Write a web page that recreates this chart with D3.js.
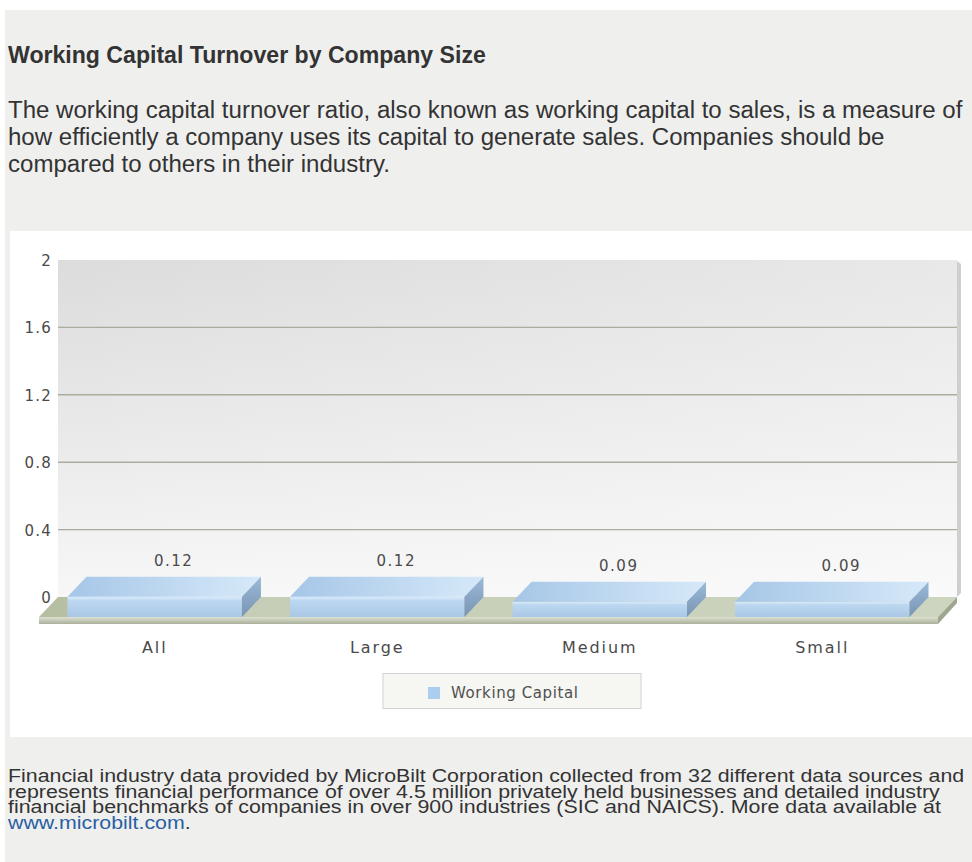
<!DOCTYPE html>
<html>
<head>
<meta charset="utf-8">
<script src="https://cdn.jsdelivr.net/npm/d3@7"></script>
<style>
  html, body { margin: 0; padding: 0; background: #ffffff; }
  svg { display: block; }
</style>
</head>
<body>
<svg id="chart" width="972" height="862"></svg>
<script>
// ---------------- data ----------------
const categories = ["All", "Large", "Medium", "Small"];
const values = [0.12, 0.12, 0.09, 0.09];
const valueLabels = ["0.12", "0.12", "0.09", "0.09"];
const yTicks = [0, 0.4, 0.8, 1.2, 1.6, 2];
const yTickLabels = ["0", "0.4", "0.8", "1.2", "1.6", "2"];
const seriesName = "Working Capital";

const titleText = "Working Capital Turnover by Company Size";
const introLines = [
  "The working capital turnover ratio, also known as working capital to sales, is a measure of",
  "how efficiently a company uses its capital to generate sales. Companies should be",
  "compared to others in their industry."
];
const footerLines = [
  "Financial industry data provided by MicroBilt Corporation collected from 32 different data sources and",
  "represents financial performance of over 4.5 million privately held businesses and detailed industry",
  "financial benchmarks of companies in over 900 industries (SIC and NAICS). More data available at"
];
const footerLink = "www.microbilt.com";

// ---------------- page ----------------
const svg = d3.select("#chart");
const defs = svg.append("defs");

svg.append("rect").attr("x", 5).attr("y", 10).attr("width", 967).attr("height", 852).attr("fill", "#efefee");
svg.append("rect").attr("x", 10).attr("y", 231).attr("width", 962).attr("height", 506).attr("fill", "#ffffff");

const textFont = "'Liberation Sans', Arial, Helvetica, sans-serif";

function fitBlock(sel, firstNode, target) {
  const len = firstNode.getComputedTextLength();
  const base = parseFloat(sel.attr("font-size"));
  sel.attr("font-size", (base * target / len).toFixed(2));
}

// title
const title = svg.append("text")
  .attr("x", 8).attr("y", 63)
  .attr("font-family", textFont).attr("font-weight", "bold")
  .attr("font-size", 20).attr("fill", "#333")
  .text(titleText);
fitBlock(title, title.node(), 478);

// intro paragraph
const intro = svg.append("g").attr("font-family", textFont).attr("font-size", 20).attr("fill", "#333");
const introTexts = intro.selectAll("text").data(introLines).join("text")
  .attr("x", 8).attr("y", (d, i) => 118 + i * 27).text(d => d);
fitBlock(intro, introTexts.node(), 955);

// footer (condensed horizontally, tight leading)
const footerOuter = svg.append("g");
const footer = footerOuter.append("g").attr("font-family", textFont).attr("font-size", 17.5).attr("fill", "#333");
const footerTexts = footer.selectAll("text.l").data(footerLines).join("text").attr("class", "l")
  .attr("x", 0).attr("y", (d, i) => 782 + i * 15.6).text(d => d);
const linkT = footer.append("text").attr("x", 0).attr("y", 782 + 3 * 15.6);
linkT.append("tspan").attr("fill", "#2b5fa3").text(footerLink);
linkT.append("tspan").text(".");
const sx = 957 / footerTexts.node().getComputedTextLength();
footerOuter.attr("transform", `translate(8,0) scale(${sx.toFixed(4)},1)`);

// ---------------- chart ----------------
const DX = 19, DY = 20; // depth offset (back plane is right/up)
const x = d3.scaleBand().domain(categories).range([39, 938]).paddingInner(0.216).paddingOuter(0.128);
const y = d3.scaleLinear().domain([0, 2]).range([597, 260]); // back plane
const yF = v => y(v) + DY; // front plane

const plotL = x.range()[0] + DX, plotR = x.range()[1] + DX;

// gradients
const gWall = defs.append("linearGradient").attr("id", "wall").attr("x1", 0).attr("y1", 0).attr("x2", 0).attr("y2", 1);
gWall.append("stop").attr("offset", 0).attr("stop-color", "#dcdcdc");
gWall.append("stop").attr("offset", 0.5).attr("stop-color", "#e9e9e9");
gWall.append("stop").attr("offset", 1).attr("stop-color", "#f7f7f7");
const gWallH = defs.append("linearGradient").attr("id", "wallH").attr("x1", 0).attr("y1", 0).attr("x2", 1).attr("y2", 0);
gWallH.append("stop").attr("offset", 0).attr("stop-color", "#ffffff").attr("stop-opacity", 0);
gWallH.append("stop").attr("offset", 1).attr("stop-color", "#ffffff").attr("stop-opacity", 0.35);

const gFront = defs.append("linearGradient").attr("id", "barFront").attr("x1", 0).attr("y1", 0).attr("x2", 0).attr("y2", 1);
gFront.append("stop").attr("offset", 0).attr("stop-color", "#d9eaf9");
gFront.append("stop").attr("offset", 0.12).attr("stop-color", "#c9e0f5");
gFront.append("stop").attr("offset", 0.2).attr("stop-color", "#bcd7f0");
gFront.append("stop").attr("offset", 1).attr("stop-color", "#a9c7e6");
const gTop = defs.append("linearGradient").attr("id", "barTop").attr("x1", 0).attr("y1", 0).attr("x2", 1).attr("y2", 0);
gTop.append("stop").attr("offset", 0).attr("stop-color", "#a6c6e7");
gTop.append("stop").attr("offset", 1).attr("stop-color", "#d6e9f9");
const gSide = defs.append("linearGradient").attr("id", "barSide").attr("x1", 0).attr("y1", 0).attr("x2", 0).attr("y2", 1);
gSide.append("stop").attr("offset", 0).attr("stop-color", "#9bbad8");
gSide.append("stop").attr("offset", 1).attr("stop-color", "#7895b3");

const gFloor = defs.append("linearGradient").attr("id", "floorTop").attr("x1", 0).attr("y1", 0).attr("x2", 1).attr("y2", 0);
gFloor.append("stop").attr("offset", 0).attr("stop-color", "#b4bd9f");
gFloor.append("stop").attr("offset", 0.15).attr("stop-color", "#c6cdb6");
gFloor.append("stop").attr("offset", 1).attr("stop-color", "#cdd4bf");
const gFloorF = defs.append("linearGradient").attr("id", "floorFront").attr("x1", 0).attr("y1", 0).attr("x2", 0).attr("y2", 1);
gFloorF.append("stop").attr("offset", 0).attr("stop-color", "#dde2d0");
gFloorF.append("stop").attr("offset", 1).attr("stop-color", "#aab09c");

// back wall
svg.append("rect").attr("x", plotL).attr("y", y(2)).attr("width", plotR - plotL).attr("height", y(0) - y(2)).attr("fill", "url(#wall)");
svg.append("rect").attr("x", plotL).attr("y", y(2)).attr("width", plotR - plotL).attr("height", y(0) - y(2)).attr("fill", "url(#wallH)");
// right wall edge
svg.append("polygon")
  .attr("points", [[plotR, y(2) + 1], [plotR + 4, y(2) + 4], [plotR + 4, y(0) - 4], [plotR, y(0)]].join(" "))
  .attr("fill", "#cfcfcf");

// gridlines
svg.append("g").selectAll("line").data(yTicks.filter(v => v > 0 && v < 2)).join("line")
  .attr("x1", plotL).attr("x2", plotR)
  .attr("y1", d => y(d)).attr("y2", d => y(d))
  .attr("stroke", "#a9ad9d").attr("stroke-width", 1.4);

// y-axis labels
const chartFont = "'DejaVu Sans', Verdana, sans-serif";
svg.append("g").selectAll("text").data(yTicks).join("text")
  .attr("x", 52).attr("y", d => y(d) + 1)
  .attr("text-anchor", "end").attr("dominant-baseline", "central")
  .attr("font-family", chartFont).attr("font-size", 15).attr("letter-spacing", 1.2)
  .attr("fill", "#4a4a4a")
  .text((d, i) => yTickLabels[i]);

// floor
const fx0 = x.range()[0], fx1 = x.range()[1];
svg.append("polygon")
  .attr("points", [[fx0, yF(0)], [fx0 + DX, y(0)], [fx1 + DX, y(0)], [fx1, yF(0)]].join(" "))
  .attr("fill", "url(#floorTop)");
svg.append("rect").attr("x", fx0).attr("y", yF(0)).attr("width", fx1 - fx0).attr("height", 7).attr("fill", "url(#floorFront)");
svg.append("polygon")
  .attr("points", [[fx1, yF(0)], [fx1 + DX, y(0)], [fx1 + DX, y(0) + 6], [fx1, yF(0) + 7]].join(" "))
  .attr("fill", "#9fa690");

// bars
const bw = x.bandwidth();
const bars = svg.append("g").selectAll("g").data(categories).join("g");
bars.append("rect")
  .attr("x", d => x(d)).attr("y", (d, i) => yF(values[i]))
  .attr("width", bw).attr("height", (d, i) => yF(0) - yF(values[i]))
  .attr("fill", "url(#barFront)");
bars.append("polygon")
  .attr("points", (d, i) => {
    const x0 = x(d), yt = yF(values[i]);
    return [[x0, yt], [x0 + DX, yt - DY], [x0 + bw + DX, yt - DY], [x0 + bw, yt]].join(" ");
  })
  .attr("fill", "url(#barTop)");
bars.append("polygon")
  .attr("points", (d, i) => {
    const x1 = x(d) + bw, yt = yF(values[i]), yb = yF(0);
    return [[x1, yt], [x1 + DX, yt - DY], [x1 + DX, yb - DY], [x1, yb]].join(" ");
  })
  .attr("fill", "url(#barSide)");

// value labels
bars.append("text")
  .attr("x", d => x(d) + bw / 2 + DX)
  .attr("y", (d, i) => y(values[i]) - 16)
  .attr("text-anchor", "middle").attr("dominant-baseline", "central")
  .attr("font-family", chartFont).attr("font-size", 15).attr("letter-spacing", 1.5)
  .attr("fill", "#4a4a4a")
  .text((d, i) => valueLabels[i]);

// category labels
svg.append("g").selectAll("text").data(categories).join("text")
  .attr("x", d => x(d) + bw / 2)
  .attr("y", 647)
  .attr("text-anchor", "middle").attr("dominant-baseline", "central")
  .attr("font-family", chartFont).attr("font-size", 16).attr("letter-spacing", 1.9)
  .attr("fill", "#4a4a4a")
  .text(d => d);

// legend
const lg = svg.append("g");
lg.append("rect").attr("x", 383).attr("y", 673.5).attr("width", 258).attr("height", 35)
  .attr("fill", "#f6f6f2").attr("stroke", "#d2d2d2").attr("stroke-width", 1);
lg.append("rect").attr("x", 428).attr("y", 687).attr("width", 12).attr("height", 12).attr("fill", "#aacdf0");
lg.append("text").attr("x", 451).attr("y", 693)
  .attr("dominant-baseline", "central")
  .attr("font-family", chartFont).attr("font-size", 15).attr("letter-spacing", 0.6)
  .attr("fill", "#4f4f4f")
  .text(seriesName);
</script>
</body>
</html>
